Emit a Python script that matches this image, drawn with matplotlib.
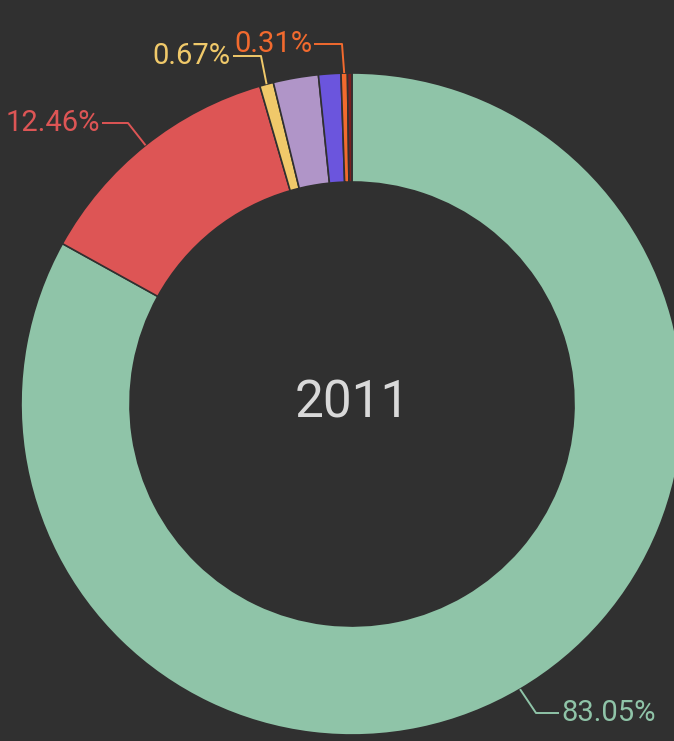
"""Donut chart 2011 - ricostruzione."""
import numpy as np
import matplotlib
matplotlib.use("Agg")
import matplotlib.pyplot as plt

BG = "#303030"

# dati (percentuali, ordine orario dall'alto)
labels = ["A", "B", "C", "D", "E", "F", "G"]
values = [83.05, 12.46, 0.67, 2.20, 1.09, 0.31, 0.22]
colors = ["#8fc4a8", "#dd5555", "#f0c96a", "#b095c8", "#6b55dd", "#f26a2e", "#7a1f1f"]
shown = [True, True, True, False, False, True, False]
year = "2011"

# layout in pixel (y verso l'alto)
W, H = 674, 741
cx, cy = 352, H - 404
R = 331
RING = 109

fig = plt.figure(figsize=(W / 100, H / 100), dpi=100, facecolor=BG)
ax = fig.add_axes([0, 0, 1, 1])
ax.set_facecolor(BG)

wedges, _ = ax.pie(values, colors=colors, startangle=90, counterclock=False,
                   center=(cx, cy), radius=R,
                   wedgeprops=dict(width=RING, edgecolor=BG, linewidth=1.2))
ax.set_xlim(0, W)
ax.set_ylim(0, H)
ax.set_aspect("equal")
ax.axis("off")

ax.text(cx, cy, year, ha="center", va="center", fontsize=37,
        color="#d9d9d9", family="Roboto")

# etichette: (gomito, posizione testo, allineamento)
label_layout = {
    0: ((536, H - 713), (561, H - 713), "left"),
    1: ((128, H - 123), (100, H - 123), "right"),
    2: ((261, H - 56), (231, H - 56), "right"),
    5: ((342, H - 44), (312, H - 44), "right"),
}
for i, w in enumerate(wedges):
    if not shown[i]:
        continue
    ang = np.deg2rad((w.theta1 + w.theta2) / 2)
    ax_pt = (cx + R * np.cos(ang), cy + R * np.sin(ang))
    elbow, txt, ha = label_layout[i]
    ax.plot([ax_pt[0], elbow[0], txt[0] + (-2 if ha == "left" else 2)],
            [ax_pt[1], elbow[1], txt[1]], color=colors[i], lw=1.4,
            solid_capstyle="butt")
    ax.text(txt[0], txt[1], f"{values[i]:.2f}%", ha=ha, va="center",
            fontsize=21, color=colors[i], family="Roboto")

fig.savefig("out.png", dpi=100, facecolor=BG)
